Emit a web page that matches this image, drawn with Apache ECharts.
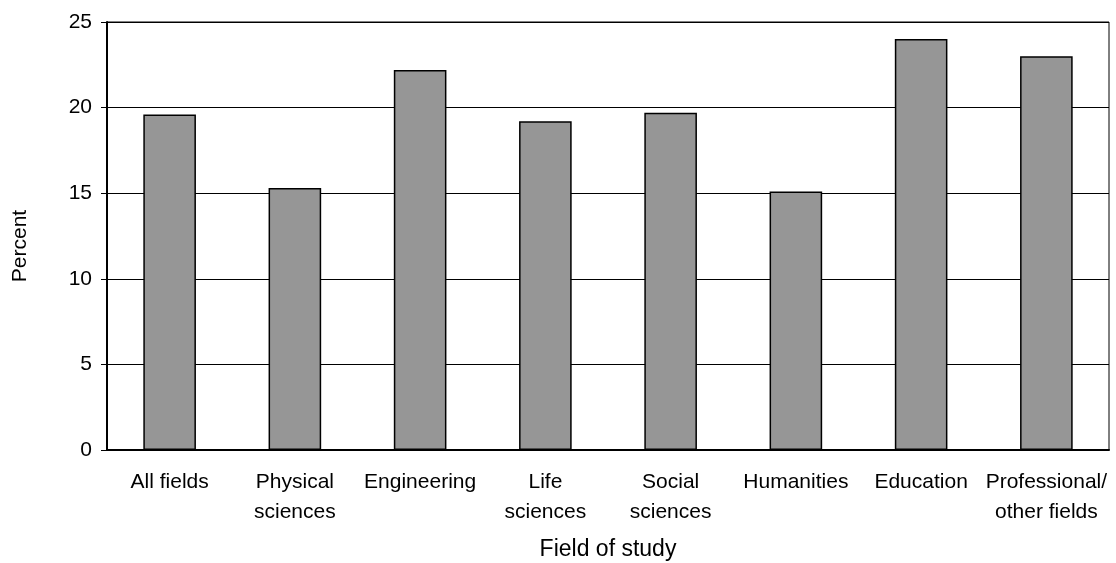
<!DOCTYPE html>
<html>
<head>
<meta charset="utf-8">
<script src="https://cdn.jsdelivr.net/npm/echarts@6/dist/echarts.min.js"></script>
<style>
html,body{margin:0;padding:0;background:#fff;}
#chart{width:1116px;height:563px;}
</style>
</head>
<body>
<div id="chart"></div>
<script>
const categories = ["All fields", "Physical\nsciences", "Engineering", "Life\nsciences", "Social\nsciences", "Humanities", "Education", "Professional/\nother fields"];
const percentValues = [19.6, 15.3, 22.2, 19.2, 19.7, 15.1, 24.0, 23.0];
const yTicks = [0, 5, 10, 15, 20, 25];

const FONT = '"Liberation Sans", Arial, sans-serif';
const chart = echarts.init(document.getElementById('chart'), null, {renderer: 'canvas'});
chart.setOption({
  animation: false,
  backgroundColor: '#ffffff',
  grid: {left: 107, right: 7, top: 22, bottom: 113, outerBoundsMode: 'none', containLabel: false, show: true, borderColor: '#000', borderWidth: 1, backgroundColor: 'transparent'},
  xAxis: {
    type: 'category',
    data: categories,
    name: 'Field of study',
    nameLocation: 'middle',
    nameGap: 88,
    nameTextStyle: {fontFamily: FONT, fontSize: 23, color: '#000'},
    axisLine: {lineStyle: {color: '#000', width: 2}},
    axisTick: {show: false},
    axisLabel: {interval: 0, fontFamily: FONT, fontSize: 21, color: '#000', lineHeight: 30, margin: 17}
  },
  yAxis: {
    type: 'value',
    min: yTicks[0],
    max: yTicks[yTicks.length - 1],
    interval: 5,
    name: 'Percent',
    nameLocation: 'middle',
    nameGap: 76,
    nameTextStyle: {fontFamily: FONT, fontSize: 21, color: '#000', padding: [0, 20, 0, 0]},
    axisLine: {show: true, lineStyle: {color: '#000', width: 2}},
    axisTick: {show: true, length: 6, lineStyle: {color: '#000', width: 1}},
    axisLabel: {fontFamily: FONT, fontSize: 21, color: '#000', margin: 15},
    splitLine: {show: true, lineStyle: {color: '#000', width: 1}}
  },
  series: [{
    type: 'bar',
    data: percentValues,
    barWidth: '42%',
    itemStyle: {color: '#969696', borderColor: '#000', borderWidth: 1.5}
  }]
});
</script>
</body>
</html>
